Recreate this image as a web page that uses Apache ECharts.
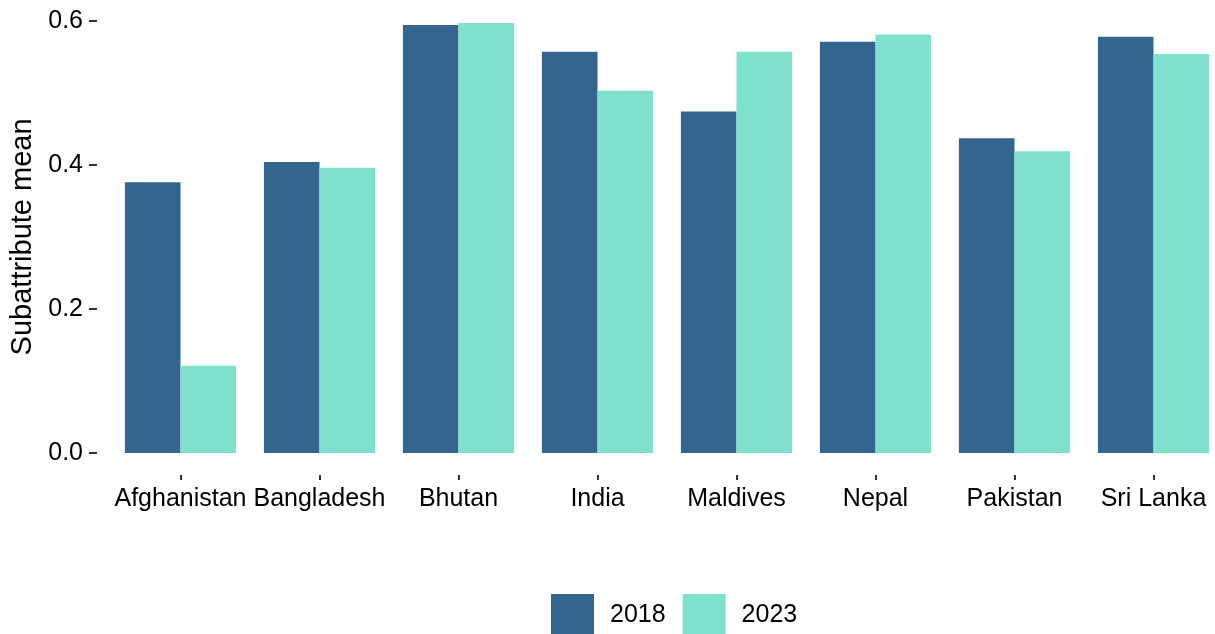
<!DOCTYPE html>
<html>
<head>
<meta charset="utf-8">
<script src="https://cdn.jsdelivr.net/npm/echarts@6/dist/echarts.min.js"></script>
<style>
  html, body { margin: 0; padding: 0; background: #fff; }
  #chart { width: 1215px; height: 634px; }
</style>
</head>
<body>
<div id="chart"></div>
<script>
const countries = ['Afghanistan', 'Bangladesh', 'Bhutan', 'India', 'Maldives', 'Nepal', 'Pakistan', 'Sri Lanka']
const years = ['2018', '2023']
const values2018 = [0.376, 0.404, 0.594, 0.557, 0.474, 0.571, 0.437, 0.578]
const values2023 = [0.121, 0.396, 0.597, 0.503, 0.557, 0.581, 0.419, 0.554]
const yTicks = [0, 0.2, 0.4, 0.6]

const colors = ['#33658f', '#7fe0cb']
const font = 'Liberation Sans, Arial, sans-serif'

const myChart = echarts.init(document.getElementById('chart'))
myChart.setOption({
  backgroundColor: '#fff',
  animation: false,
  textStyle: { fontFamily: font },
  legend: {
    data: years,
    left: 551,
    top: 594,
    padding: 0,
    itemWidth: 43,
    itemHeight: 43,
    itemGap: 17,
    icon: 'rect',
    textStyle: { fontSize: 25, color: '#000', fontFamily: font, padding: [0, 0, 0, 11] }
  },
  grid: [
    // bar panel
    { left: 111, right: -8, top: 20.8, bottom: 181, outerBoundsMode: 'none', show: false },
    // strip below the panel that carries the x ticks and labels (panel is expanded below 0)
    { left: 111, right: -8, top: 474, height: 1, outerBoundsMode: 'none', show: false }
  ],
  xAxis: [
    {
      type: 'category',
      gridIndex: 0,
      data: countries,
      axisLine: { show: false },
      axisTick: { show: false },
      axisLabel: { show: false },
      splitLine: { show: false }
    },
    {
      type: 'category',
      gridIndex: 1,
      data: countries,
      axisLine: { show: false },
      axisTick: {
        show: true,
        alignWithLabel: true,
        length: 5,
        lineStyle: { color: '#333', width: 2 }
      },
      axisLabel: {
        interval: 0,
        margin: 12,
        fontSize: 25,
        color: '#000',
        fontFamily: font
      },
      splitLine: { show: false }
    }
  ],
  yAxis: [
    {
      type: 'value',
      gridIndex: 0,
      name: 'Subattribute mean',
      nameLocation: 'middle',
      nameGap: 58,
      nameTextStyle: { fontSize: 29, color: '#000', fontFamily: font },
      min: yTicks[0],
      max: yTicks[yTicks.length - 1],
      interval: 0.2,
      offset: 14,
      axisLine: { show: false },
      axisTick: {
        show: true,
        length: 8,
        lineStyle: { color: '#333', width: 2 }
      },
      axisLabel: {
        margin: 14,
        fontSize: 25,
        color: '#000',
        fontFamily: font,
        formatter: v => v.toFixed(1)
      },
      splitLine: { show: false }
    },
    {
      type: 'value',
      gridIndex: 1,
      show: false
    }
  ],
  series: [
    {
      name: years[0],
      type: 'bar',
      data: values2018,
      itemStyle: { color: colors[0] },
      barGap: '0%',
      barCategoryGap: '20%'
    },
    {
      name: years[1],
      type: 'bar',
      data: values2023,
      itemStyle: { color: colors[1] },
      barGap: '0%',
      barCategoryGap: '20%'
    }
  ]
})
</script>
</body>
</html>
